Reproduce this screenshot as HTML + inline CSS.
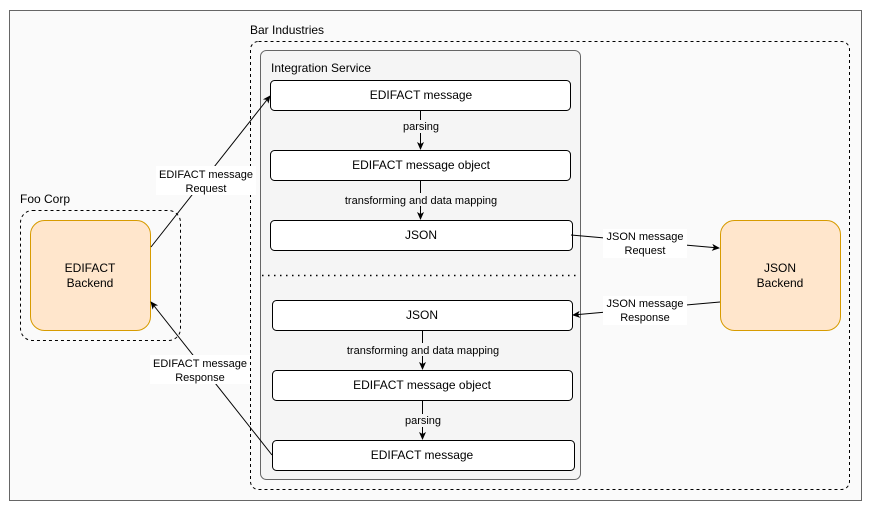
<!DOCTYPE html>
<html><head><meta charset="utf-8"><style>
body{margin:0;background:#fff}
svg{display:block;font-family:"Liberation Sans",Arial,sans-serif}
</style></head><body>
<svg width="871" height="511" viewBox="0 0 871 511">
<defs><marker id="a" markerWidth="8" markerHeight="8" refX="7" refY="4" orient="auto" markerUnits="userSpaceOnUse"><path d="M0,0.5 L8,4 L0,7.5 L2,4 Z" fill="#000"/></marker></defs>
<rect x="9.5" y="10.5" width="852" height="490" fill="#fafafa" stroke="#666"/>
<text x="250" y="34" font-size="12">Bar Industries</text>
<rect x="250.5" y="41.5" width="599" height="448" rx="8" fill="none" stroke="#000" stroke-dasharray="3,3"/>
<rect x="260.5" y="50.5" width="320" height="429" rx="6" fill="#f5f5f5" stroke="#666"/>
<text x="271" y="72" font-size="12">Integration Service</text>
<g fill="#fff" stroke="#000">
<rect x="270.5" y="80.5" width="300" height="30" rx="4"/>
<rect x="270.5" y="150.5" width="300" height="30" rx="4"/>
<rect x="270.5" y="220.5" width="302" height="30" rx="4"/>
<rect x="272.5" y="300.5" width="300" height="30" rx="4"/>
<rect x="272.5" y="370.5" width="300" height="30" rx="4"/>
<rect x="272.5" y="440.5" width="302" height="30" rx="4"/>
</g>
<g font-size="12" text-anchor="middle">
<text x="421" y="99">EDIFACT message</text>
<text x="421" y="169">EDIFACT message object</text>
<text x="421" y="239">JSON</text>
<text x="422" y="319">JSON</text>
<text x="422" y="389">EDIFACT message object</text>
<text x="422" y="459">EDIFACT message</text>
</g>
<line x1="262" y1="275.5" x2="579" y2="275.5" stroke="#000" stroke-width="1.5" stroke-dasharray="1.5,4.5"/>
<g stroke="#000" fill="none">
<line x1="420.5" y1="111" x2="420.5" y2="149" marker-end="url(#a)"/>
<line x1="420.5" y1="181" x2="420.5" y2="219" marker-end="url(#a)"/>
<line x1="422.5" y1="331" x2="422.5" y2="369" marker-end="url(#a)"/>
<line x1="422.5" y1="401" x2="422.5" y2="439" marker-end="url(#a)"/>
</g>
<g font-size="11" text-anchor="middle">
<rect x="399" y="120" width="44" height="13" fill="#f5f5f5"/>
<text x="421" y="130">parsing</text>
<rect x="343" y="193" width="156" height="13" fill="#f5f5f5"/>
<text x="421" y="204">transforming and data mapping</text>
<rect x="345" y="343" width="156" height="13" fill="#f5f5f5"/>
<text x="423" y="354">transforming and data mapping</text>
<rect x="401" y="414" width="44" height="13" fill="#f5f5f5"/>
<text x="423" y="424">parsing</text>
</g>
<text x="20" y="203" font-size="12">Foo Corp</text>
<rect x="20.5" y="210.5" width="160" height="130" rx="12" fill="none" stroke="#000" stroke-dasharray="3,3"/>
<rect x="30.5" y="220.5" width="120" height="110" rx="14" fill="#ffe6cc" stroke="#d79b00"/>
<text x="90" y="272" font-size="12" text-anchor="middle">EDIFACT</text>
<text x="90" y="287" font-size="12" text-anchor="middle">Backend</text>
<rect x="720.5" y="220.5" width="120" height="110" rx="14" fill="#ffe6cc" stroke="#d79b00"/>
<text x="780" y="272" font-size="12" text-anchor="middle">JSON</text>
<text x="780" y="287" font-size="12" text-anchor="middle">Backend</text>
<g stroke="#000" fill="none">
<line x1="151" y1="247" x2="270" y2="96" marker-end="url(#a)"/>
<line x1="272" y1="455" x2="151" y2="302" marker-end="url(#a)"/>
<line x1="571" y1="235" x2="719" y2="248" marker-end="url(#a)"/>
<line x1="720" y1="302" x2="573" y2="315" marker-end="url(#a)"/>
</g>
<g font-size="11" text-anchor="middle">
<rect x="156" y="166" width="100" height="29" fill="#fff"/>
<text x="206" y="178">EDIFACT message</text>
<text x="206" y="192">Request</text>
<rect x="150" y="355" width="100" height="29" fill="#fff"/>
<text x="200" y="367">EDIFACT message</text>
<text x="200" y="381">Response</text>
<rect x="603" y="229" width="84" height="29" fill="#fff"/>
<text x="645" y="240">JSON message</text>
<text x="645" y="254">Request</text>
<rect x="603" y="296" width="84" height="29" fill="#fff"/>
<text x="645" y="307">JSON message</text>
<text x="645" y="321">Response</text>
</g>
</svg>
</body></html>
